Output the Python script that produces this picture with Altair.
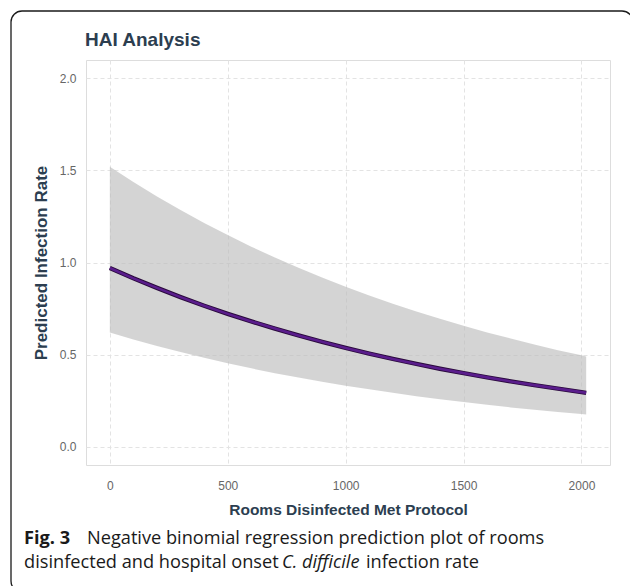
import altair as alt
import pandas as pd

# Data
x_vals = [0, 100, 200, 300, 400, 500, 600, 700, 800, 900, 1000, 1100, 1200,
          1300, 1400, 1500, 1600, 1700, 1800, 1900, 2000, 2020]
pred = [0.970, 0.914, 0.862, 0.812, 0.765, 0.721, 0.680, 0.641, 0.604, 0.569,
        0.536, 0.505, 0.476, 0.449, 0.423, 0.399, 0.376, 0.354, 0.334, 0.315,
        0.296, 0.292]
upper = [1.520, 1.437, 1.359, 1.285, 1.215, 1.149, 1.086, 1.027, 0.971, 0.918,
         0.868, 0.821, 0.776, 0.734, 0.694, 0.656, 0.620, 0.587, 0.555, 0.524,
         0.496, 0.490]
lower = [0.620, 0.582, 0.547, 0.514, 0.482, 0.453, 0.425, 0.399, 0.375, 0.352,
         0.331, 0.311, 0.292, 0.274, 0.257, 0.242, 0.227, 0.213, 0.200, 0.188,
         0.177, 0.174]
x_ticks = [0, 500, 1000, 1500, 2000]
y_ticks = [0.0, 0.5, 1.0, 1.5, 2.0]

title_text = "HAI Analysis"
x_title = "Rooms Disinfected Met Protocol"
y_title = "Predicted Infection Rate"

df = pd.DataFrame({"x": x_vals, "pred": pred, "lower": lower, "upper": upper})

L, T = 86, 60          # plot-area origin in the page
W, H = 524, 405
FONT = "Liberation Sans"
TXT = "#2c3e50"

xs = alt.Scale(domain=[-101, 2121], nice=False, zero=False)
ys = alt.Scale(domain=[-0.1, 2.1], nice=False, zero=False)

x_axis = alt.Axis(values=x_ticks, title=x_title, format="d", grid=True,
                  gridDash=[4, 3], gridColor="#e3e3e3", gridWidth=1,
                  domain=False, ticks=False, labelPadding=15,
                  labelFont=FONT, labelFontSize=12, labelColor="#666666",
                  titleFont=FONT, titleFontSize=15.5, titleFontWeight="bold",
                  titleColor=TXT, titlePadding=11)
y_axis = alt.Axis(values=y_ticks, title=y_title, format=".1f", grid=True,
                  gridDash=[4, 3], gridColor="#e3e3e3", gridWidth=1,
                  domain=False, ticks=False, labelPadding=10,
                  labelFont=FONT, labelFontSize=12, labelColor="#666666",
                  titleFont=FONT, titleFontSize=17, titleFontWeight="bold",
                  titleColor=TXT, titlePadding=9)

base = alt.Chart(df)

ribbon = base.mark_area(color="#bdbdbd", opacity=0.65).encode(
    x=alt.X("x:Q", scale=xs, axis=x_axis),
    y=alt.Y("lower:Q", scale=ys, axis=y_axis),
    y2="upper:Q",
)
line_dark = base.mark_line(color="#2a0a3c", strokeWidth=4.4).encode(
    x=alt.X("x:Q", scale=xs), y=alt.Y("pred:Q", scale=ys))
line = base.mark_line(color="#5a1d8c", strokeWidth=2.6).encode(
    x=alt.X("x:Q", scale=xs), y=alt.Y("pred:Q", scale=ys))

one = pd.DataFrame({"k": [0]})

border = alt.Chart(one).mark_rect(
    fill=None, filled=False, stroke="#1a1a1a", strokeWidth=1.3, cornerRadius=11
).encode(
    x=alt.value(11 - L), x2=alt.value(633 - L),
    y=alt.value(11 - T), y2=alt.value(592 - T),
)

title_mark = alt.Chart(one).mark_text(
    text=title_text, align="left", baseline="alphabetic", font=FONT,
    fontSize=19, fontWeight="bold", color=TXT
).encode(x=alt.value(85 - L), y=alt.value(46 - T))

CAP_FONT = "Open Sans"
cap_parts = [
    ("Fig. 3", 24, 544, "bold", "normal"),
    ("Negative binomial regression prediction plot of rooms", 87, 544, "normal", "normal"),
    ("disinfected and hospital onset", 24, 568, "normal", "normal"),
    ("C. difficile", 282, 568, "normal", "italic"),
    ("infection rate", 366, 568, "normal", "normal"),
]
cap_layers = []
for txt, px, py, fw, fs in cap_parts:
    cap_layers.append(
        alt.Chart(one).mark_text(
            text=txt, align="left", baseline="alphabetic", font=CAP_FONT,
            fontSize=18.2, fontWeight=fw, fontStyle=fs, color="#1a1a1a"
        ).encode(x=alt.value(px - L), y=alt.value(py - T))
    )

chart = alt.layer(ribbon, line_dark, line, border, title_mark, *cap_layers).properties(
    width=W, height=H,
    autosize=alt.AutoSizeParams(type="none"),
    padding={"left": L, "top": T, "right": 630 - L - W, "bottom": 586 - T - H},
).configure_view(stroke=None).configure(background="white")

chart.save("out.html", embed_options={"renderer": "svg", "actions": False})
